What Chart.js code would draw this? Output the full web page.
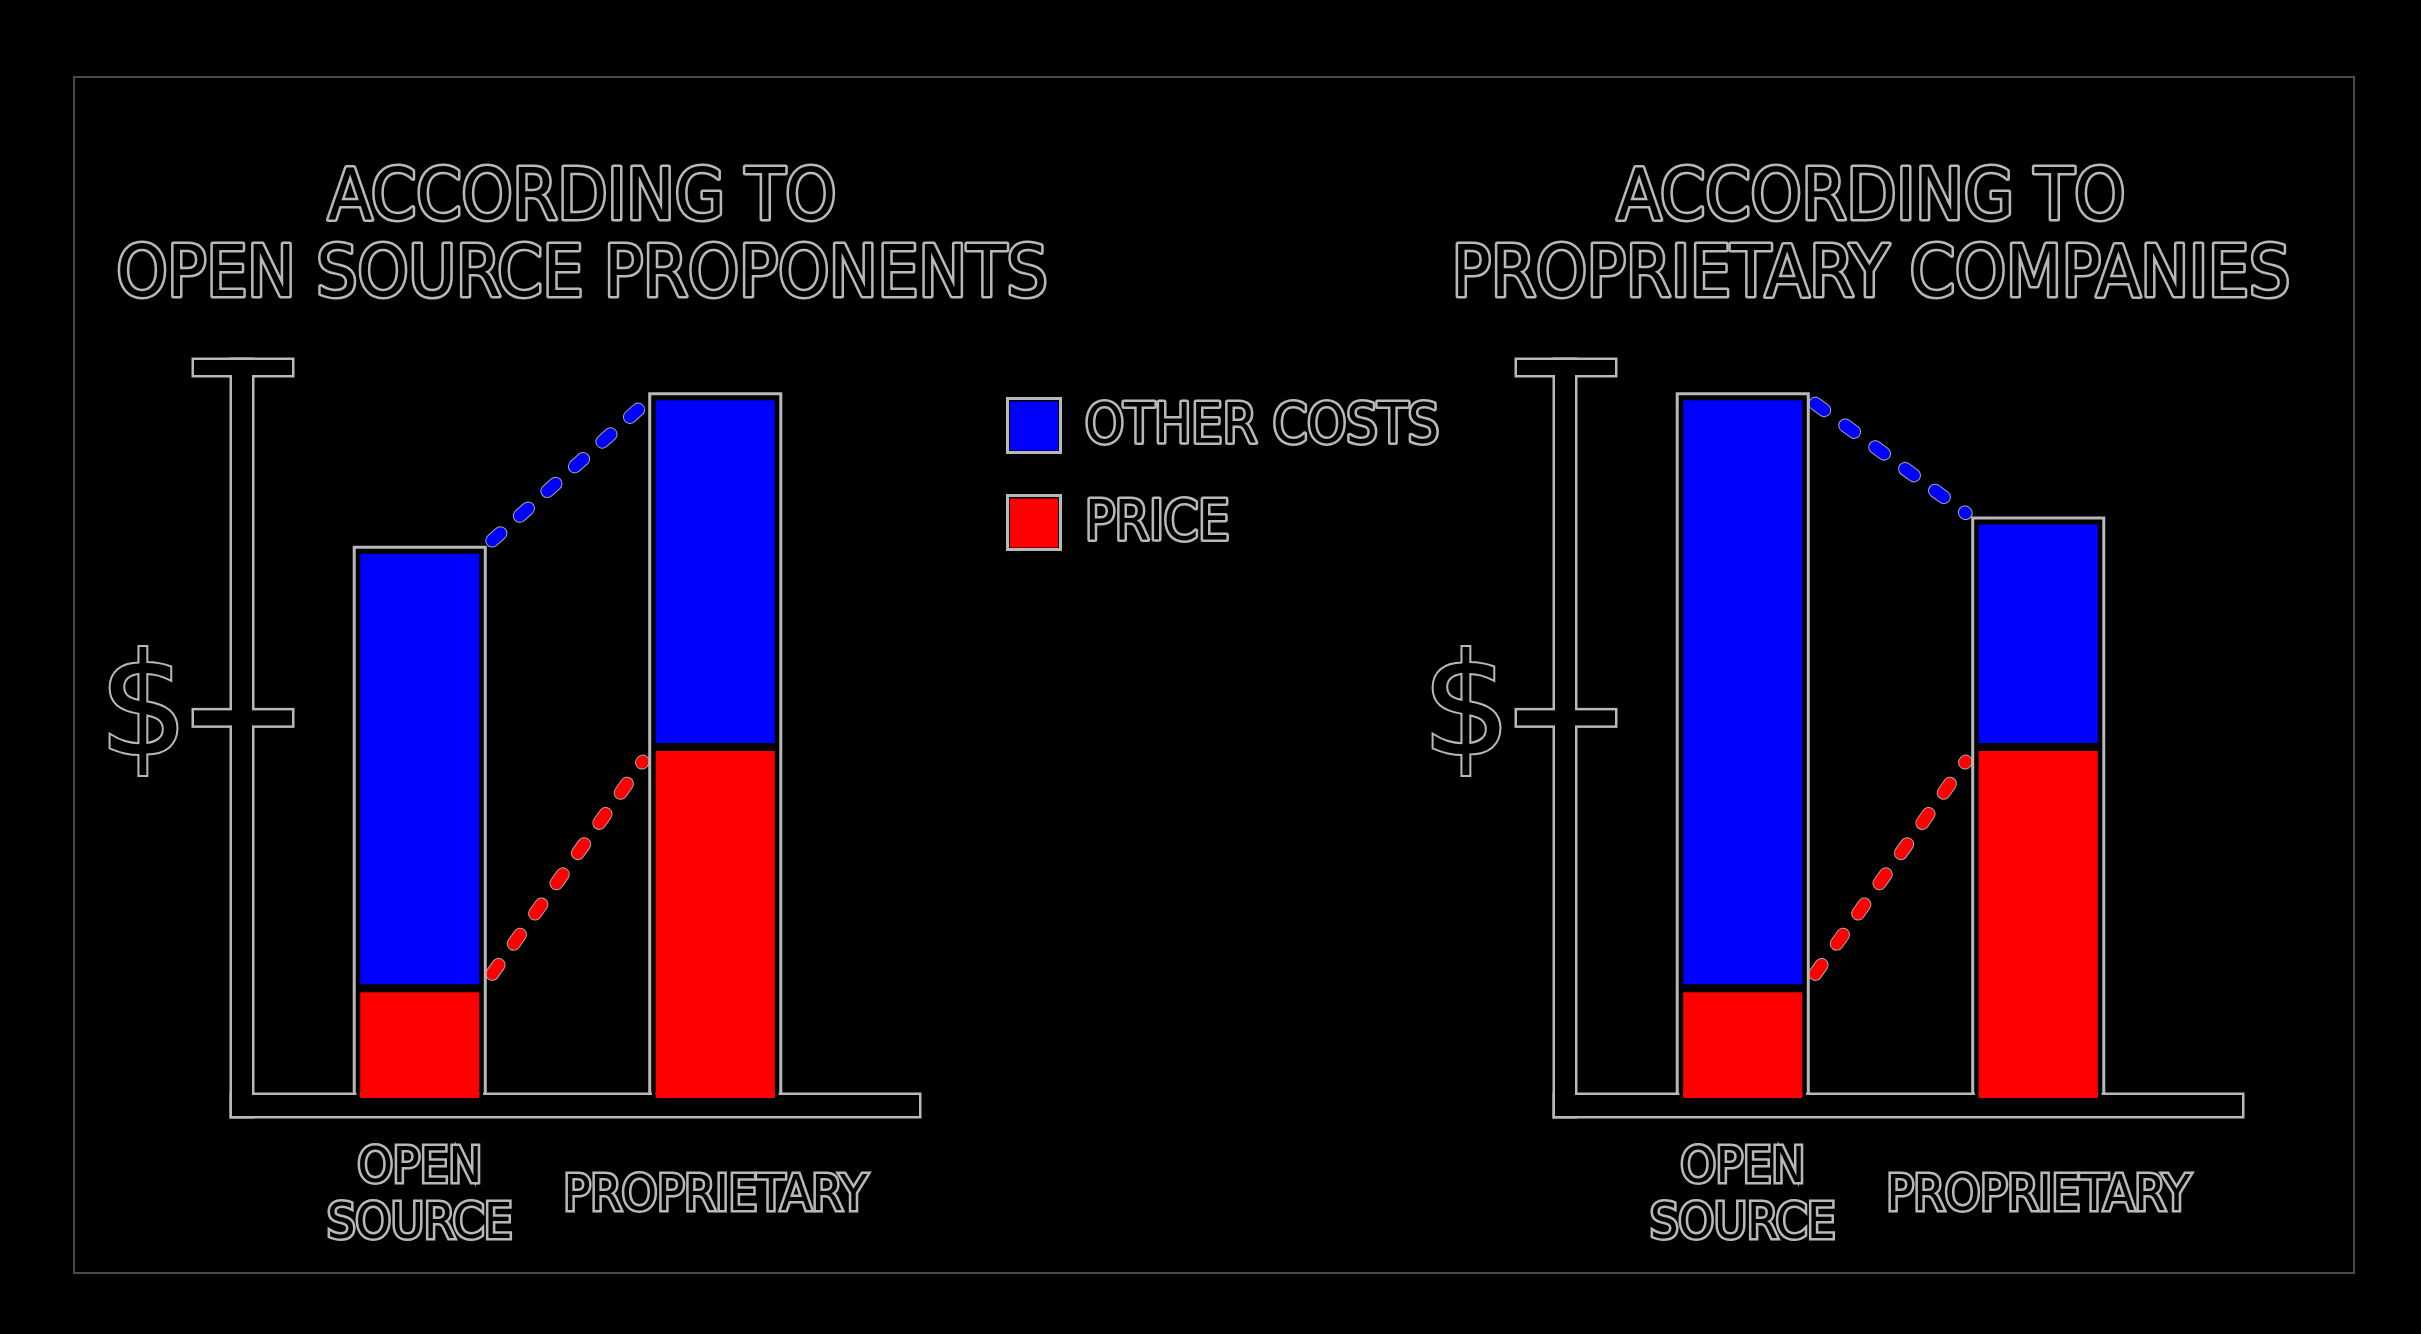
<!DOCTYPE html>
<html>
<head>
<meta charset="utf-8">
<script src="https://cdn.jsdelivr.net/npm/chart.js@4.4.1/dist/chart.umd.min.js"></script>
<style>
  html, body { margin: 0; padding: 0; background: #000; }
  body { width: 2421px; height: 1334px; position: relative; overflow: hidden; }
  canvas { position: absolute; left: 0; top: 0; }
  #frame { position: absolute; left: 73px; top: 76px; width: 2278px; height: 1194px; border: 2px solid #4a4a4a; }
</style>
</head>
<body>
<div id="frame"></div>
<canvas id="left-chart" width="2421" height="1334"></canvas>
<canvas id="right-chart" width="2421" height="1334"></canvas>
<script>
// data (y axis has no units, 0..100)
const categories = [["OPEN", "SOURCE"], "PROPRIETARY"];
const seriesNames = ["PRICE", "OTHER COSTS"];
const priceValues = [15, 48];
const otherCostsOpenView = [60, 48];
const otherCostsPropView = [81, 31];
const leftTitle = ["ACCORDING TO", "OPEN SOURCE PROPONENTS"];
const rightTitle = ["ACCORDING TO", "PROPRIETARY COMPANIES"];
const yMax = 100;
const dollarTick = 52;

const RED = "#ff0000";
const BLUE = "#0000ff";
const OUTLINE = "#b8b8b8";
const FONT = "'Liberation Sans Narrow', 'DejaVu Sans Condensed', sans-serif";

// text drawn as an outline: light stroke, black fill on top
function outlineText(ctx, text, x, y, size, align) {
  ctx.save();
  ctx.font = size + "px " + FONT;
  ctx.textAlign = align;
  ctx.textBaseline = "middle";
  ctx.lineJoin = "round";
  ctx.lineWidth = 5;
  ctx.strokeStyle = OUTLINE;
  ctx.strokeText(text, x, y);
  ctx.fillStyle = "#000";
  ctx.fillText(text, x, y);
  ctx.restore();
}

// the hollow "I" shaped axis with a crossbar at the $ tick
const axisPlugin = {
  id: "hollowAxis",
  beforeDatasetsDraw(chart) {
    const { ctx, chartArea: a, scales } = chart;
    const tickY = scales.y.getPixelForValue(dollarTick);
    const rects = [
      [a.left - 40, a.top - 7, 20, a.bottom + 25 - a.top],
      [a.left - 78, a.top - 7, 98, 15],
      [a.left - 78, tickY - 7.5, 98, 15],
      [a.left - 40, a.bottom - 3, a.right + 96 - a.left, 21],
    ];
    ctx.save();
    ctx.strokeStyle = OUTLINE;
    ctx.lineWidth = 5;
    rects.forEach(r => ctx.strokeRect(r[0], r[1], r[2], r[3]));
    ctx.fillStyle = "#000";
    rects.forEach(r => ctx.fillRect(r[0], r[1], r[2], r[3]));
    ctx.restore();
  }
};

// gray frame round each stack + dashed lines joining the stacks
const stackPlugin = {
  id: "stackFrames",
  afterDatasetsDraw(chart) {
    const { ctx, chartArea: a } = chart;
    const low = chart.getDatasetMeta(0).data;
    const high = chart.getDatasetMeta(1).data;
    ctx.save();
    [[high, BLUE], [low, RED]].forEach(([els, color]) => {
      const p = els[0], q = els[1];
      const dy = q.y - p.y;
      const x0 = p.x + p.width / 2 + 9, y0 = p.y + 0.06 * dy;
      const x1 = q.x - q.width / 2 - 9, y1 = q.y - 0.06 * dy;
      ctx.setLineDash([11, 26]);
      ctx.lineCap = "round";
      ctx.lineWidth = 14;
      ctx.strokeStyle = "#a8a8a8";
      ctx.beginPath(); ctx.moveTo(x0, y0); ctx.lineTo(x1, y1); ctx.stroke();
      ctx.lineWidth = 12;
      ctx.strokeStyle = color;
      ctx.beginPath(); ctx.moveTo(x0, y0); ctx.lineTo(x1, y1); ctx.stroke();
    });
    ctx.setLineDash([]);
    ctx.lineCap = "butt";
    ctx.strokeStyle = OUTLINE;
    ctx.lineWidth = 3;
    high.forEach(el => {
      const l = el.x - el.width / 2 - 2, r = el.x + el.width / 2 + 2, t = el.y - 2.5;
      ctx.beginPath();
      ctx.moveTo(l, a.bottom - 3);
      ctx.lineTo(l, t);
      ctx.lineTo(r, t);
      ctx.lineTo(r, a.bottom - 3);
      ctx.stroke();
    });
    ctx.restore();
  }
};

function titlePlugin(lines, x, y) {
  return {
    id: "outlineTitle",
    afterDraw(chart) {
      lines.forEach((line, i) => outlineText(chart.ctx, line, x, y + i * 77, 72, "center"));
    }
  };
}

const legendPlugin = {
  id: "middleLegend",
  afterDraw(chart) {
    const ctx = chart.ctx;
    chart.data.datasets.slice().reverse().forEach((ds, i) => {
      const y = 398.5 + i * 97;
      ctx.save();
      ctx.strokeStyle = OUTLINE;
      ctx.lineWidth = 3;
      ctx.strokeRect(1007.5, y, 53, 54);
      ctx.fillStyle = ds.backgroundColor;
      ctx.fillRect(1010, y + 3, 48, 49);
      ctx.restore();
      outlineText(ctx, ds.label, 1085, y + 29, 55, "left");
    });
  }
};

function makeChart(id, otherCosts, padding, extraPlugins) {
  return new Chart(document.getElementById(id), {
    type: "bar",
    data: {
      labels: categories,
      datasets: [
        {
          label: seriesNames[0],
          data: priceValues,
          backgroundColor: RED,
          borderColor: "#000",
          borderWidth: 4,
          borderSkipped: "bottom",
          barPercentage: 0.43,
          categoryPercentage: 1,
        },
        {
          label: seriesNames[1],
          data: otherCosts,
          backgroundColor: BLUE,
          borderColor: "#000",
          borderWidth: 4,
          borderSkipped: false,
          barPercentage: 0.43,
          categoryPercentage: 1,
        },
      ],
    },
    options: {
      responsive: false,
      animation: false,
      events: [],
      layout: { padding: padding },
      plugins: { legend: { display: false }, tooltip: { enabled: false } },
      scales: {
        x: {
          stacked: true,
          offset: true,
          grid: { display: false, drawTicks: false },
          border: { display: false },
          ticks: {
            color: "#000",
            textStrokeColor: OUTLINE,
            textStrokeWidth: 5,
            crossAlign: "center",
            padding: 71,
            maxRotation: 0,
            autoSkip: false,
            font: { family: FONT, size: 50, lineHeight: 1.12 },
          },
          afterFit(s) { s.height = 200; },
        },
        y: {
          stacked: true,
          min: 0,
          max: yMax,
          grid: { display: false, drawTicks: false },
          border: { display: false },
          afterBuildTicks(s) { s.ticks = [{ value: dollarTick }]; },
          ticks: {
            callback: () => "$",
            color: "#000",
            textStrokeColor: OUTLINE,
            textStrokeWidth: 4,
            padding: 84,
            font: { family: "'DejaVu Sans', sans-serif", size: 140 },
          },
          afterFit(s) { s.width = 200; },
        },
      },
    },
    plugins: [axisPlugin, stackPlugin].concat(extraPlugins),
  });
}

makeChart("left-chart", otherCostsOpenView,
  { left: 72, right: 1558, top: 367, bottom: 36 },
  [titlePlugin(leftTitle, 582, 200), legendPlugin]);

makeChart("right-chart", otherCostsPropView,
  { left: 1395, right: 235, top: 367, bottom: 36 },
  [titlePlugin(rightTitle, 1871, 200)]);
</script>
</body>
</html>
